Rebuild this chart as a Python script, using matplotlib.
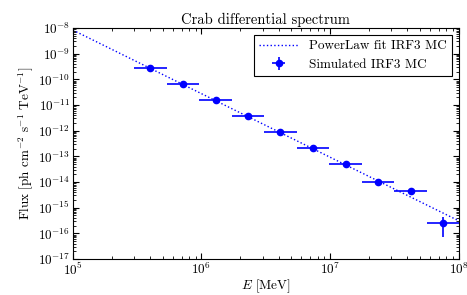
import numpy as np
import matplotlib
matplotlib.use("Agg")
import matplotlib.pyplot as plt
from matplotlib.ticker import LogLocator, NullFormatter

plt.rcParams['font.family'] = 'serif'
plt.rcParams['font.serif'] = ['cmr10']
plt.rcParams['mathtext.fontset'] = 'cm'
plt.rcParams['axes.formatter.use_mathtext'] = True
plt.rcParams['xtick.direction'] = 'in'
plt.rcParams['ytick.direction'] = 'in'
plt.rcParams['xtick.top'] = True
plt.rcParams['ytick.right'] = True

# energy bins (MeV) and measured flux
bin_lo = [3.0e5, 5.37e5, 9.62e5, 1.72e6, 3.08e6, 5.52e6, 9.88e6, 1.77e7, 3.17e7, 5.67e7]
bin_hi = [5.37e5, 9.62e5, 1.72e6, 3.08e6, 5.52e6, 9.88e6, 1.77e7, 3.17e7, 5.67e7, 1.0e8]
energy = [4.0e5, 7.2e5, 1.29e6, 2.3e6, 4.12e6, 7.38e6, 1.32e7, 2.37e7, 4.24e7, 7.53e7]
flux = [2.85e-10, 6.6e-11, 1.58e-11, 3.6e-12, 8.5e-13, 2.1e-13, 5.2e-14, 1.0e-14, 4.5e-15, 2.5e-16]
flux_err = [4e-12, 1e-12, 2.5e-13, 6e-14, 1.5e-14, 4e-15, 1.2e-15, 3e-16, 2e-16, 1.75e-16]

# power law fit evaluated at range ends
fit_energy = [1e5, 1e8]
fit_flux = [8.3e-9, 3.1e-16]

energy = np.array(energy)
xerr = [energy - np.array(bin_lo), np.array(bin_hi) - energy]

fig = plt.figure(figsize=(4.67, 2.95), dpi=100)
ax = fig.add_axes([0.156, 0.122, 0.826, 0.783])

ax.plot(fit_energy, fit_flux, ':', color='b', lw=1.0, label='PowerLaw fit IRF3 MC')
ax.errorbar(energy, flux, xerr=xerr, yerr=flux_err, fmt='o', color='b',
            ms=4.5, elinewidth=1.2, capsize=0, label='Simulated IRF3 MC')

ax.set_xscale('log')
ax.set_yscale('log')
ax.set_xlim(1e5, 1e8)
ax.set_ylim(1e-17, 1e-8)
ax.yaxis.set_major_locator(LogLocator(base=10, numticks=20))
ax.yaxis.set_minor_locator(LogLocator(base=10, subs=np.arange(2, 10), numticks=20))
ax.yaxis.set_minor_formatter(NullFormatter())
ax.set_xlabel(r'$E$ [MeV]', fontsize=9.5, labelpad=0)
ax.set_ylabel(r'Flux [ph cm$^{-2}$ s$^{-1}$ TeV$^{-1}$]', fontsize=9.5, labelpad=2)
ax.set_title('Crab differential spectrum', fontsize=10.5, pad=3)
ax.tick_params(labelsize=9.5, pad=2)
ax.tick_params(which='major', length=4)
ax.tick_params(which='minor', length=2)

leg = ax.legend(loc='upper right', fontsize=9.5, fancybox=False, framealpha=1,
                edgecolor='black', borderaxespad=0.5, handlelength=3)
leg.get_frame().set_linewidth(0.8)

fig.savefig('out.png', dpi=100)
